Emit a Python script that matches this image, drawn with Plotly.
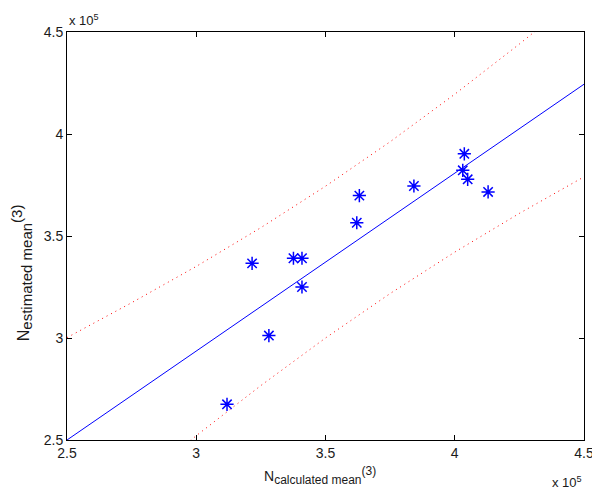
import plotly.graph_objects as go

# Data in units of 1e5
calc_mean = [3.119, 3.216, 3.281, 3.376, 3.409, 3.409, 3.621, 3.631, 3.842, 4.037, 4.031, 4.050, 4.129]
est_mean = [2.675, 3.366, 3.012, 3.391, 3.391, 3.250, 3.565, 3.698, 3.745, 3.903, 3.822, 3.778, 3.716]

fit_x = [2.5, 4.5]
fit_y = [2.5, 4.244]

bound_x = [2.5, 2.75, 3.0, 3.25, 3.5, 3.75, 4.0, 4.25, 4.5]
upper_y = [3.002, 3.173, 3.351, 3.541, 3.744, 3.962, 4.195, 4.441, 4.698]
lower_y = [1.998, 2.263, 2.521, 2.767, 3.000, 3.218, 3.421, 3.611, 3.790]

tick_vals = [2.5, 3.0, 3.5, 4.0, 4.5]
tick_text = ["2.5", "3", "3.5", "4", "4.5"]

FONT = "Liberation Sans, Arial, sans-serif"
TXT = "#1a1a1a"

fig = go.Figure()
fig.add_trace(go.Scatter(x=bound_x, y=upper_y, mode="lines",
                         line=dict(color="red", width=1, dash="1px,4px"), showlegend=False))
fig.add_trace(go.Scatter(x=bound_x, y=lower_y, mode="lines",
                         line=dict(color="red", width=1, dash="1px,4px"), showlegend=False))
fig.add_trace(go.Scatter(x=fit_x, y=fit_y, mode="lines",
                         line=dict(color="#0000ff", width=1), showlegend=False))
fig.add_trace(go.Scatter(x=calc_mean, y=est_mean, mode="markers",
                         marker=dict(symbol="asterisk-open", size=11, color="#0000ff",
                                     line=dict(color="#0000ff", width=1.5)),
                         showlegend=False))

axis_common = dict(
    tickvals=tick_vals, ticktext=tick_text, range=[2.5, 4.5],
    showgrid=False, zeroline=False, showline=True, linecolor="black", linewidth=1,
    mirror="ticks", ticks="inside", ticklen=5, tickcolor="black", tickwidth=1,
    tickfont=dict(family=FONT, size=14, color=TXT),
)
fig.update_xaxes(**axis_common)
fig.update_yaxes(**axis_common)

xt = ("N<sub><span style='font-size:12px'>calculated mean</span></sub>"
      "<sup><span style='font-size:12px'>(3)</span></sup>")
yt = ("N<sub><span style='font-size:15px'>estimated mean</span></sub>"
      "<sup><span style='font-size:15px'>(3)</span></sup>")

fig.update_layout(
    width=600, height=495,
    margin=dict(l=59, r=24, t=24, b=63),
    paper_bgcolor="white", plot_bgcolor="white",
    font=dict(family=FONT, size=13, color=TXT),
    annotations=[
        dict(text="x 10<sup>5</sup>", xref="paper", yref="paper", x=0.0, y=1.0,
             xanchor="left", yanchor="bottom", showarrow=False, yshift=2,
             font=dict(family=FONT, size=13, color=TXT)),
        dict(text="x 10<sup>5</sup>", xref="paper", yref="paper", x=1.0, y=0.0,
             xanchor="right", yanchor="top", showarrow=False, yshift=-32,
             font=dict(family=FONT, size=13, color=TXT)),
        dict(text=xt, xref="paper", yref="paper",
             x=0.49, y=0.0, xanchor="center", yanchor="top", showarrow=False, yshift=-22,
             font=dict(family=FONT, size=14, color=TXT)),
        dict(text=yt, xref="paper", yref="paper",
             x=-0.088, y=0.41, xanchor="center", yanchor="middle", showarrow=False,
             textangle=-90, font=dict(family=FONT, size=16, color=TXT)),
    ],
)

fig.write_html("out.html")
